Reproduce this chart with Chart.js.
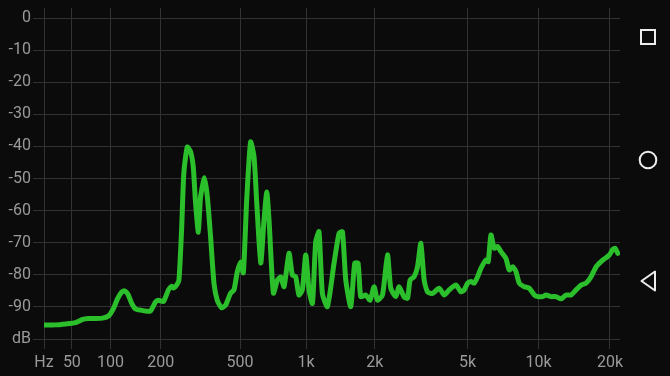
<!DOCTYPE html>
<html>
<head>
<meta charset="utf-8">
<script src="https://cdn.jsdelivr.net/npm/chart.js@4/dist/chart.umd.min.js"></script>
<style>
  html, body { margin: 0; padding: 0; background: #0b0b0b; overflow: hidden; }
  #wrap { position: relative; width: 670px; height: 376px; }
  canvas { display: block; }
  #nav { position: absolute; left: 0; top: 0; }
</style>
</head>
<body>
<div id="wrap">
<canvas id="c" width="670" height="376"></canvas>
<svg id="nav" width="670" height="376" viewBox="0 0 670 376">
  <rect x="641" y="30" width="14" height="14" fill="none" stroke="#ededed" stroke-width="2"/>
  <circle cx="648" cy="160" r="8.3" fill="none" stroke="#ededed" stroke-width="2"/>
  <polygon points="641.5,281 655,271.5 655,290.5" fill="none" stroke="#ededed" stroke-width="2" stroke-linejoin="round"/>
</svg>
</div>
<script>
// ---- data ----
const freqHz = [24,34,44,54,62,69,78,88,97,105,111,118,123,129,136,144,154,164,175,187,
  194,207,220,229,234,243,250,258,265,276,287,296,304,314,322,337,348,361,375,389,
  408,427,451,468,485,503,518,537,560,581,598,624,646,665,681,713,744,770,797,839,
  869,899,930,963,997,1031,1068,1104,1142,1182,1244,1330,1399,1448,1497,1574,1638,1694,1740,1830,
  1910,1988,2056,2161,2272,2347,2467,2549,2678,2770,2842,2957,3058,3159,3264,3375,3546,3784,3974,4175,
  4459,4684,4838,5002,5166,5336,5516,5697,5984,6119,6283,6489,6708,6927,7274,7513,7766,8020,8282,8699,
  9133,9590,9912,10407,10748,11283,11844,12440,13061,13711,14395,15112,15863,16652,17479,18348,19077,19893,20560,21026,
  21582];
const levelDb = [-95.6,-95.6,-95.3,-94.9,-93.9,-93.6,-93.6,-93.5,-92.8,-90.3,-87.5,-85.4,-85.0,-86.0,-88.8,-90.7,-91.0,-91.3,-91.3,-88.5,
  -87.9,-88.3,-84.7,-83.6,-84.1,-83.2,-81.6,-66.0,-48.3,-40.2,-41.7,-46.4,-57.6,-66.7,-55.8,-49.8,-55.8,-68.2,-82.6,-87.9,
  -90.3,-89.4,-85.7,-84.7,-79.1,-76.0,-79.4,-56.7,-38.6,-43.3,-57.6,-76.3,-62.9,-54.2,-62.9,-85.7,-81.6,-80.7,-83.7,-73.3,
  -80.1,-80.6,-86.3,-84.7,-73.8,-84.7,-88.9,-69.7,-66.6,-85.8,-89.9,-76.4,-67.1,-66.6,-81.6,-89.9,-76.4,-76.4,-86.8,-86.3,
  -87.9,-83.7,-87.9,-86.3,-73.8,-84.2,-86.8,-83.7,-86.9,-87.3,-81.6,-80.6,-77.5,-70.2,-81.6,-85.3,-85.8,-84.2,-86.3,-84.7,
  -83.2,-85.3,-84.7,-82.6,-82.1,-82.6,-80.6,-78.0,-75.4,-75.9,-67.6,-71.7,-71.2,-72.8,-74.9,-78.5,-77.5,-79.0,-82.6,-83.7,
  -84.2,-86.3,-86.8,-86.8,-86.3,-86.8,-86.8,-87.5,-86.3,-86.3,-84.7,-83.2,-82.6,-80.6,-77.5,-75.9,-74.9,-73.8,-72.1,-71.7,
  -73.3];
const tickFreqs = [24, 50, 100, 200, 500, 1000, 2000, 5000, 10000, 20000];
const tickLabels = ['Hz', '50', '100', '200', '500', '1k', '2k', '5k', '10k', '20k'];
const yTicks = [0, -10, -20, -30, -40, -50, -60, -70, -80, -90, -100];
const yLabels = ['0', '-10', '-20', '-30', '-40', '-50', '-60', '-70', '-80', '-90', 'dB'];
const freqMin = 24, freqMax = 22050;

// frequency axis mapping of the analyser (log of f + offset)
const fx = f => Math.log10(f + 60);

const points = freqHz.map((f, i) => ({ x: fx(f), y: levelDb[i] }));

const gridColor = '#323232';
const textColor = '#9a9a9a';
const font = { family: 'Roboto', size: 16 };

const xTicksHook = s => { s.ticks = tickFreqs.map(f => ({ value: fx(f) })); };

new Chart(document.getElementById('c'), {
  type: 'line',
  data: {
    datasets: [{
      data: points,
      borderColor: '#2bbf2b',
      borderWidth: 5,
      pointRadius: 0,
      tension: 0.2,
      fill: false,
      borderJoinStyle: 'round',
      borderCapStyle: 'round'
    }]
  },
  options: {
    responsive: false,
    animation: false,
    devicePixelRatio: 1,
    layout: { padding: { top: 8, right: 50, left: 0, bottom: 0 } },
    plugins: { legend: { display: false }, tooltip: { enabled: false } },
    scales: {
      x: {
        type: 'linear',
        position: 'bottom',
        min: fx(freqMin),
        max: fx(freqMax),
        afterBuildTicks: xTicksHook,
        afterFit: s => { s.height = 37; },
        grid: { color: gridColor, lineWidth: 1, tickLength: 10, drawTicks: true },
        border: { display: false },
        ticks: {
          color: textColor, font: font, padding: 4, autoSkip: false, maxRotation: 0,
          callback: (v, i) => tickLabels[i]
        }
      },
      xTop: {
        type: 'linear',
        position: 'top',
        display: true,
        min: fx(freqMin),
        max: fx(freqMax),
        afterBuildTicks: xTicksHook,
        grid: { color: gridColor, lineWidth: 1, tickLength: 10, drawOnChartArea: false },
        border: { display: false },
        ticks: { display: false }
      },
      y: {
        type: 'linear',
        min: -100,
        max: 0,
        afterBuildTicks: s => { s.ticks = yTicks.map(v => ({ value: v })); },
        afterFit: s => { s.width = 44; },
        grid: { color: gridColor, lineWidth: 1, tickLength: 11 },
        border: { display: false },
        ticks: {
          color: textColor, font: font, padding: 2,
          callback: (v, i) => yLabels[i]
        }
      }
    }
  }
});
</script>
</body>
</html>
